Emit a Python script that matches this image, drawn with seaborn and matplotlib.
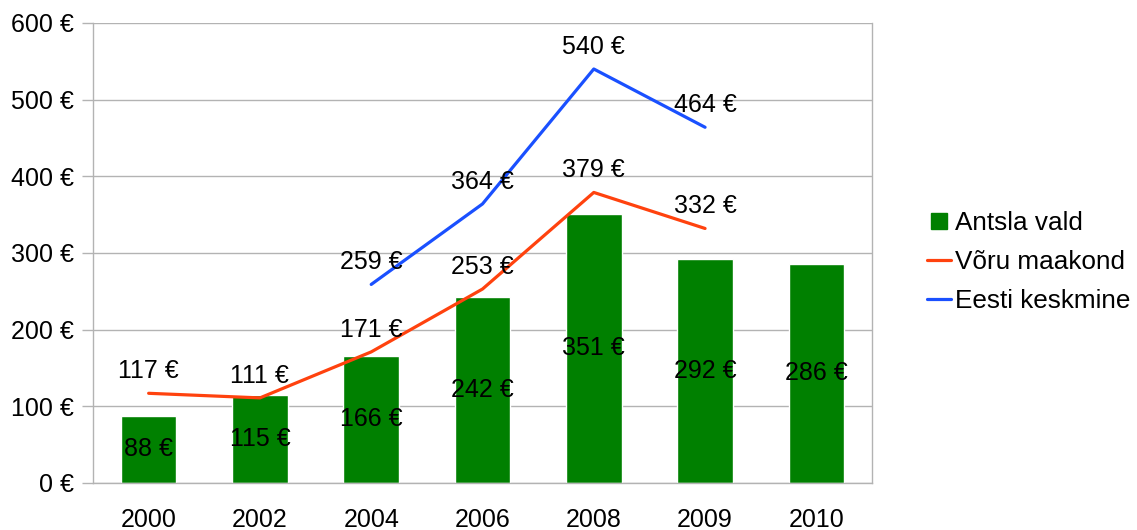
import numpy as np
import pandas as pd
import matplotlib
matplotlib.use('Agg')
import matplotlib.pyplot as plt
import seaborn as sns
from matplotlib.lines import Line2D

# andmed
years = ['2000', '2002', '2004', '2006', '2008', '2009', '2010']
antsla = [88, 115, 166, 242, 351, 292, 286]
voru = [117, 111, 171, 253, 379, 332, np.nan]
eesti = [np.nan, np.nan, 259, 364, 540, 464, np.nan]

green = '#008000'
orange = '#ff420e'
blue = '#1a50ff'
gridc = '#b3b3b3'
fs = 18

sns.set_style('white')
plt.rcParams['font.family'] = ['Liberation Sans', 'DejaVu Sans']
plt.rcParams['text.color'] = 'black'

df = pd.DataFrame({'aasta': years, 'Antsla vald': antsla,
                   'Võru maakond': voru, 'Eesti keskmine': eesti})
pos = np.arange(len(years))

fig = plt.figure(figsize=(11.37, 5.30), dpi=100)
ax = fig.add_axes([93 / 1137, 47 / 530, (872 - 93) / 1137, (483 - 23) / 530])

sns.barplot(data=df, x='aasta', y='Antsla vald', color=green, width=0.5,
            saturation=1, ax=ax, zorder=2)
ax.bar_label(ax.containers[0], labels=[f'{v} €' for v in antsla],
             label_type='center', fontsize=fs, color='black')

sns.lineplot(x=pos, y=df['Võru maakond'], color=orange, linewidth=2.3, ax=ax, zorder=3)
sns.lineplot(x=pos, y=df['Eesti keskmine'], color=blue, linewidth=2.3, ax=ax, zorder=3)

for series in (voru, eesti):
    for i, v in enumerate(series):
        if not np.isnan(v):
            ax.annotate(f'{v:.0f} €', (pos[i], v), xytext=(0, 16),
                        textcoords='offset points', ha='center', va='center',
                        fontsize=fs, color='black', zorder=4)

ax.set_xlim(-0.5, len(years) - 0.5)
ax.set_ylim(0, 600)
ax.set_yticks(range(0, 601, 100))
ax.set_yticklabels([f'{v} €' for v in range(0, 601, 100)], fontsize=fs)
ax.set_xticks(pos)
ax.set_xticklabels(years, fontsize=fs)
ax.set_xticks(np.arange(-0.5, len(years), 1), minor=True)
ax.tick_params(axis='x', which='major', length=0, pad=18, labelcolor='black')
ax.tick_params(axis='x', which='minor', length=8, color=gridc, width=1)
ax.tick_params(axis='y', length=8, color=gridc, width=1, pad=6, left=True,
               labelcolor='black')
ax.set_xlabel('')
ax.set_ylabel('')
ax.yaxis.grid(True, color=gridc, linewidth=1)
ax.set_axisbelow(True)
for s in ax.spines.values():
    s.set_color(gridc)
    s.set_linewidth(1)
ax.spines['top'].set_visible(False)

handles = [Line2D([], [], marker='s', linestyle='none', markersize=11,
                  markerfacecolor=green, markeredgecolor=green),
           Line2D([], [], color=orange, linewidth=2.3),
           Line2D([], [], color=blue, linewidth=2.3)]
fig.legend(handles, ['Antsla vald', 'Võru maakond', 'Eesti keskmine'],
           loc='center left', bbox_to_anchor=(927 / 1137, 0.506), frameon=False,
           fontsize=18.8, handlelength=0.92, handletextpad=0.15, labelspacing=0.58,
           borderpad=0, borderaxespad=0)

fig.savefig('out.png', dpi=100)
